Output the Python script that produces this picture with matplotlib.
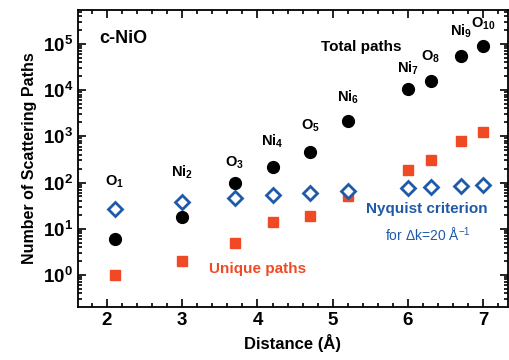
import math
import matplotlib
matplotlib.use("Agg")
import matplotlib.pyplot as plt
from matplotlib.ticker import FixedLocator, LogLocator, FuncFormatter, MultipleLocator, NullFormatter

plt.rcParams['font.family'] = ['Liberation Sans', 'DejaVu Sans']
plt.rcParams['mathtext.fontset'] = 'custom'
plt.rcParams['mathtext.rm'] = 'Liberation Sans'
plt.rcParams['mathtext.bf'] = 'Liberation Sans:bold'
plt.rcParams['mathtext.it'] = 'Liberation Sans:italic'

distance = [2.1, 3.0, 3.7, 4.2, 4.7, 5.2, 6.0, 6.3, 6.7, 7.0]
total_paths = [6, 18, 100, 220, 450, 2100, 10500, 16000, 55000, 90000]
unique_paths = [1, 2, 5, 14, 19, 50, 190, 315, 780, 1270]
nyquist = [27, 38, 47, 54, 60, 66, 76, 80, 85, 89]
shell_labels = [r'$\mathbf{O_{1}}$', r'$\mathbf{Ni_{2}}$', r'$\mathbf{O_{3}}$', r'$\mathbf{Ni_{4}}$',
                r'$\mathbf{O_{5}}$', r'$\mathbf{Ni_{6}}$', r'$\mathbf{Ni_{7}}$', r'$\mathbf{O_{8}}$',
                r'$\mathbf{Ni_{9}}$', r'$\mathbf{O_{10}}$']
label_y = [105, 165, 270, 780, 1650, 7000, 29000, 52000, 190000, 270000]
xticks = [2, 3, 4, 5, 6, 7]

red = '#f04a24'
blue = '#1f5aa8'

fig = plt.figure(figsize=(5.09, 3.6), dpi=100)
ax = fig.add_axes([78/509, 1-307/360, 430/509, 297/360])

ax.plot(distance, total_paths, 'o', color='black', ms=8.5, ls='none')
ax.plot(distance, unique_paths, 's', color=red, ms=7.5, ls='none')
ax.plot(distance, nyquist, 'D', mfc='white', mec=blue, mew=2, ms=7.5, ls='none')

ax.set_yscale('log')
ax.set_xlim(1.614, 7.33)
ax.set_ylim(0.203, 5.4e5)

ax.xaxis.set_major_locator(FixedLocator(xticks))
ax.xaxis.set_minor_locator(MultipleLocator(0.2))
ax.yaxis.set_major_locator(FixedLocator([1, 10, 100, 1e3, 1e4, 1e5]))
ax.yaxis.set_minor_locator(LogLocator(base=10, subs=range(2, 10), numticks=20))
ax.yaxis.set_minor_formatter(NullFormatter())
ax.yaxis.set_major_formatter(FuncFormatter(lambda v, p: r'$\mathbf{10^{%d}}$' % round(math.log10(v))))
ax.xaxis.set_major_formatter(FuncFormatter(lambda v, p: '%d' % v))

ax.tick_params(which='both', direction='in', top=True, right=True, width=1.2)
ax.tick_params(which='major', length=6, labelsize=13.5)
ax.tick_params(which='minor', length=3)
for lab in ax.get_xticklabels():
    lab.set_fontweight('bold')
for s in ax.spines.values():
    s.set_linewidth(1.3)

ax.set_xlabel('Distance (Å)', fontsize=12, fontweight='bold', labelpad=4)
ax.set_ylabel('Number of Scattering Paths', fontsize=11.5, fontweight='bold', labelpad=4)

for x, y, t in zip(distance, label_y, shell_labels):
    ax.text(x, y, t, ha='center', va='center', fontsize=10.5)

ax.text(0.05, 0.905, 'c-NiO', transform=ax.transAxes, fontsize=13, fontweight='bold', va='center')
ax.text(0.565, 0.877, 'Total paths', transform=ax.transAxes, fontsize=11, fontweight='bold', va='center')
ax.text(0.67, 0.33, 'Nyquist criterion', transform=ax.transAxes, fontsize=11, fontweight='bold', color=blue, va='center')
ax.text(0.715, 0.243, 'for Δk=20 Å$^{-1}$', transform=ax.transAxes, fontsize=10, color=blue, va='center')
ax.text(0.305, 0.128, 'Unique paths', transform=ax.transAxes, fontsize=11, fontweight='bold', color=red, va='center')

fig.savefig('out.png', dpi=100)
